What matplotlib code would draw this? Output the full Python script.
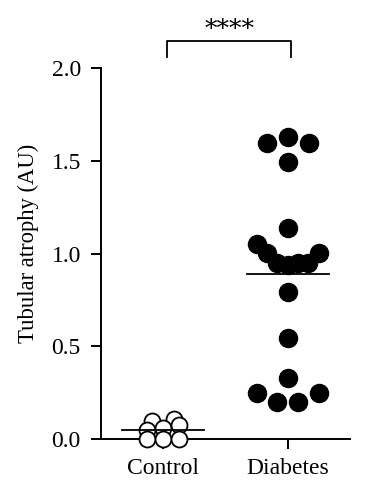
import numpy as np
import matplotlib
matplotlib.use('Agg')
import matplotlib.pyplot as plt

# values (AU), in the order they sit left to right in each row
groups = ['Control', 'Diabetes']
control = [0.099, 0.106, 0.049, 0.058, 0.075, 0.0, 0.0, 0.0]
diabetes = [1.597, 1.63, 1.597, 1.495, 1.139,
            1.051, 1.001, 0.947, 0.938, 0.947, 0.947, 1.001,
            0.794, 0.546, 0.330,
            0.250, 0.201, 0.201, 0.250]
yticks = [0.0, 0.5, 1.0, 1.5, 2.0]
sig_label = '****'

plt.rcParams['font.family'] = ['Liberation Serif', 'DejaVu Serif']

W, H, DPI = 3.65, 5.0, 100
fig = plt.figure(figsize=(W, H), dpi=DPI)
ax = fig.add_axes([101 / 365, 1 - 439 / 500, 249 / 365, 371 / 500])
ax.set_xlim(-0.5, 1.5)
ax.set_ylim(0, 2.0)

# pixels per x data unit
sx = ax.get_position().width * W * DPI / 2.0


def rows_layout(vals, bin_w, bin_off, step_px, max_w_px):
    """GraphPad-like scatter: bin values into rows, spread each row evenly."""
    vals = np.asarray(vals)
    bins = np.floor((vals + bin_off) / bin_w).astype(int)
    offs = np.zeros(len(vals))
    for b in np.unique(bins):
        idx = np.where(bins == b)[0]
        n = len(idx)
        if n == 1:
            continue
        step = min(step_px, max_w_px / (n - 1))
        offs[idx] = (np.arange(n) - (n - 1) / 2) * step / sx
    return offs


cx = 0 + rows_layout(control, 0.06, 0.03, 22, 32)
dx = 1 + rows_layout(diabetes, 0.2, 0.1, 21, 62)

ax.plot(cx, control, 'o', ms=11.5, mfc='white', mec='black', mew=1.3,
        clip_on=False, zorder=3)
ax.plot(dx, diabetes, 'o', ms=13, mfc='black', mec='black', clip_on=False,
        zorder=3)

# mean lines
for i, vals in enumerate([control, diabetes]):
    m = np.mean(vals)
    ax.plot([i - 0.33, i + 0.33], [m, m], color='black', lw=1.3, zorder=4)

# significance bracket
bx0, bx1, by, bh = 0.03, 1.03, 2.147, 0.086
ax.plot([bx0, bx0, bx1, bx1], [by - bh, by, by, by - bh], color='black',
        lw=1.3, clip_on=False)
ax.text((bx0 + bx1) / 2, 2.205, sig_label, ha='center', va='center',
        fontsize=18, family='DejaVu Serif')

ax.set_xticks([0, 1])
ax.set_xticklabels(groups)
ax.set_yticks(yticks)
ax.set_yticklabels(['%.1f' % t for t in yticks])
ax.set_ylabel('Tubular atrophy (AU)', fontsize=16.3)
ax.yaxis.set_label_coords(-0.249, 0.528)

for s in ['top', 'right']:
    ax.spines[s].set_visible(False)
for s in ['left', 'bottom']:
    ax.spines[s].set_linewidth(1.4)
ax.tick_params(axis='both', direction='out', length=7, width=1.4,
               labelsize=17)
ax.tick_params(axis='y', pad=7.5)
ax.tick_params(axis='x', pad=7)

fig.savefig('out.png', dpi=DPI)
